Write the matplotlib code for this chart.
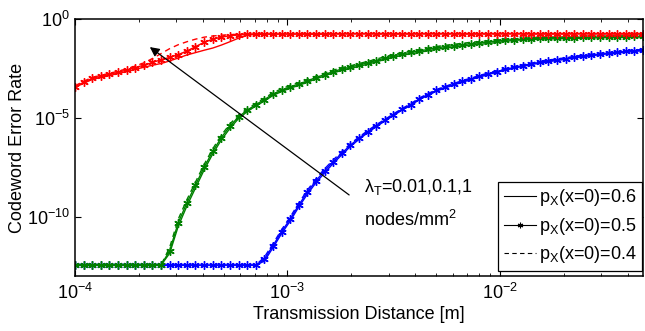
import matplotlib
matplotlib.use('Agg')
import matplotlib.pyplot as plt
from matplotlib.lines import Line2D
from matplotlib.ticker import LogLocator, NullLocator
import numpy as np

plt.rcParams['font.family'] = ['Liberation Sans', 'DejaVu Sans']
plt.rcParams['mathtext.fontset'] = 'custom'
plt.rcParams['mathtext.rm'] = 'Liberation Sans'
plt.rcParams['mathtext.it'] = 'Liberation Sans:italic'
plt.rcParams['font.size'] = 13

# transmission distance grid [m] (log spaced samples)
dist = np.logspace(-4, -1.327, 67)

# log10 of codeword error rate
# red curve
red_p06 = [-3.46, -3.25, -3.06, -2.96, -2.86, -2.76, -2.66, -2.55, -2.44, -2.34,
           -2.25, -2.12, -1.97, -1.82, -1.70, -1.58, -1.47, -1.32, -1.15, -0.97,
           -0.82, -0.77, -0.76, -0.76, -0.76, -0.76, -0.76, -0.76, -0.76, -0.76,
           -0.75, -0.75, -0.75, -0.75, -0.75, -0.75, -0.75, -0.75, -0.75, -0.75,
           -0.75, -0.75, -0.75, -0.75, -0.75, -0.75, -0.75, -0.75, -0.75, -0.75,
           -0.75, -0.75, -0.75, -0.75, -0.75, -0.75, -0.75, -0.75, -0.75, -0.75,
           -0.75, -0.75, -0.75, -0.75, -0.75, -0.75, -0.75]
red_p05 = [-3.42, -3.20, -3.00, -2.90, -2.80, -2.70, -2.58, -2.46, -2.33, -2.20,
           -2.06, -1.94, -1.80, -1.62, -1.40, -1.18, -1.02, -0.92, -0.85, -0.81,
           -0.78, -0.77, -0.76, -0.76, -0.76, -0.76, -0.76, -0.76, -0.76, -0.76,
           -0.75, -0.75, -0.75, -0.75, -0.75, -0.75, -0.75, -0.75, -0.75, -0.75,
           -0.75, -0.75, -0.75, -0.75, -0.75, -0.75, -0.75, -0.75, -0.75, -0.75,
           -0.75, -0.75, -0.75, -0.75, -0.75, -0.75, -0.75, -0.75, -0.75, -0.75,
           -0.75, -0.75, -0.75, -0.75, -0.75, -0.75, -0.75]
red_p04 = [-3.38, -3.15, -2.95, -2.85, -2.75, -2.64, -2.52, -2.38, -2.22, -2.00,
           -1.75, -1.50, -1.30, -1.15, -1.02, -0.92, -0.86, -0.82, -0.79, -0.77,
           -0.76, -0.76, -0.76, -0.76, -0.76, -0.76, -0.76, -0.76, -0.76, -0.76,
           -0.75, -0.75, -0.75, -0.75, -0.75, -0.75, -0.75, -0.75, -0.75, -0.75,
           -0.75, -0.75, -0.75, -0.75, -0.75, -0.75, -0.75, -0.75, -0.75, -0.75,
           -0.75, -0.75, -0.75, -0.75, -0.75, -0.75, -0.75, -0.75, -0.75, -0.75,
           -0.75, -0.75, -0.75, -0.75, -0.75, -0.75, -0.75]

# green curve
green_p06 = [-12.45, -12.45, -12.45, -12.45, -12.45, -12.45, -12.45, -12.45, -12.45, -12.45,
             -12.45, -11.85, -10.48, -9.46, -8.55, -7.64, -6.83, -6.12, -5.53, -5.04,
             -4.69, -4.40, -4.15, -3.87, -3.67, -3.50, -3.36, -3.20, -3.03, -2.88,
             -2.73, -2.60, -2.51, -2.39, -2.29, -2.17, -2.05, -1.94, -1.84, -1.76,
             -1.69, -1.61, -1.53, -1.47, -1.42, -1.37, -1.32, -1.28, -1.24, -1.19,
             -1.13, -1.08, -1.06, -1.04, -1.02, -1.01, -1.00, -0.99, -0.98, -0.97,
             -0.96, -0.95, -0.94, -0.94, -0.93, -0.92, -0.91]
green_p05 = [-12.45, -12.45, -12.45, -12.45, -12.45, -12.45, -12.45, -12.45, -12.45, -12.45,
             -12.45, -11.72, -10.30, -9.30, -8.40, -7.50, -6.70, -6.00, -5.42, -4.95,
             -4.62, -4.33, -4.08, -3.80, -3.60, -3.43, -3.29, -3.13, -2.96, -2.81,
             -2.66, -2.53, -2.44, -2.32, -2.22, -2.10, -1.98, -1.87, -1.77, -1.69,
             -1.62, -1.54, -1.46, -1.40, -1.35, -1.30, -1.25, -1.21, -1.17, -1.12,
             -1.07, -1.04, -1.02, -1.00, -0.98, -0.97, -0.96, -0.95, -0.94, -0.93,
             -0.92, -0.91, -0.90, -0.90, -0.89, -0.88, -0.88]
green_p04 = [-12.45, -12.45, -12.45, -12.45, -12.45, -12.45, -12.45, -12.45, -12.45, -12.45,
             -12.45, -11.55, -10.12, -9.14, -8.25, -7.36, -6.57, -5.88, -5.31, -4.86,
             -4.55, -4.27, -4.01, -3.73, -3.53, -3.36, -3.22, -3.06, -2.89, -2.74,
             -2.59, -2.46, -2.37, -2.25, -2.15, -2.03, -1.91, -1.80, -1.70, -1.62,
             -1.55, -1.47, -1.39, -1.33, -1.28, -1.23, -1.18, -1.14, -1.10, -1.05,
             -1.01, -1.00, -0.98, -0.96, -0.94, -0.93, -0.92, -0.91, -0.90, -0.89,
             -0.88, -0.87, -0.86, -0.86, -0.85, -0.85, -0.85]

# blue curve
blue_p06 = [-12.45, -12.45, -12.45, -12.45, -12.45, -12.45, -12.45, -12.45, -12.45, -12.45,
            -12.45, -12.45, -12.45, -12.45, -12.45, -12.45, -12.45, -12.45, -12.45, -12.45,
            -12.45, -12.45, -12.25, -11.57, -10.86, -10.22, -9.51, -8.86, -8.28, -7.78,
            -7.31, -6.87, -6.45, -6.09, -5.75, -5.45, -5.16, -4.88, -4.61, -4.37,
            -4.08, -3.86, -3.65, -3.49, -3.34, -3.20, -3.07, -2.94, -2.81, -2.70,
            -2.59, -2.49, -2.40, -2.31, -2.23, -2.16, -2.10, -2.04, -1.97, -1.91,
            -1.86, -1.81, -1.76, -1.72, -1.68, -1.64, -1.61]
blue_p05 = [-12.45, -12.45, -12.45, -12.45, -12.45, -12.45, -12.45, -12.45, -12.45, -12.45,
            -12.45, -12.45, -12.45, -12.45, -12.45, -12.45, -12.45, -12.45, -12.45, -12.45,
            -12.45, -12.45, -12.15, -11.47, -10.76, -10.12, -9.41, -8.76, -8.18, -7.68,
            -7.22, -6.79, -6.38, -6.03, -5.70, -5.40, -5.12, -4.84, -4.57, -4.33,
            -4.04, -3.82, -3.61, -3.45, -3.30, -3.16, -3.03, -2.90, -2.77, -2.66,
            -2.55, -2.45, -2.36, -2.27, -2.19, -2.12, -2.06, -2.00, -1.93, -1.87,
            -1.82, -1.77, -1.72, -1.68, -1.64, -1.60, -1.57]
blue_p04 = [-12.45, -12.45, -12.45, -12.45, -12.45, -12.45, -12.45, -12.45, -12.45, -12.45,
            -12.45, -12.45, -12.45, -12.45, -12.45, -12.45, -12.45, -12.45, -12.45, -12.45,
            -12.45, -12.45, -12.05, -11.37, -10.66, -10.02, -9.31, -8.66, -8.08, -7.58,
            -7.13, -6.71, -6.31, -5.97, -5.65, -5.35, -5.08, -4.80, -4.53, -4.29,
            -4.00, -3.78, -3.57, -3.41, -3.26, -3.12, -2.99, -2.86, -2.73, -2.62,
            -2.51, -2.41, -2.32, -2.23, -2.15, -2.08, -2.02, -1.96, -1.89, -1.83,
            -1.78, -1.73, -1.69, -1.65, -1.61, -1.57, -1.54]

legend_labels = [r'p$_\mathrm{X}$(x=0)=0.6', r'p$_\mathrm{X}$(x=0)=0.5', r'p$_\mathrm{X}$(x=0)=0.4']

fig = plt.figure(figsize=(6.45, 3.31), dpi=100)
ax = fig.add_axes([75/645, 55/331, 568/645, 257/331])

asterisk = (6, 2, 0)
curves = [
    ('#0000ff', blue_p06, blue_p05, blue_p04),
    ('#008000', green_p06, green_p05, green_p04),
    ('#ff0000', red_p06, red_p05, red_p04),
]
for col, y6, y5, y4 in curves:
    ax.plot(dist, 10**np.array(y6), '-', color=col, lw=1.0)
    ax.plot(dist, 10**np.array(y5), '-', color=col, lw=1.0, marker=asterisk,
            ms=6, mew=1.0)
    ax.plot(dist, 10**np.array(y4), '--', color=col, lw=1.0, dashes=(4, 3))

ax.set_xscale('log')
ax.set_yscale('log')
ax.set_xlim(1e-4, 10**-1.327)
ax.set_ylim(1e-13, 1)
ax.set_yticks([1e-10, 1e-5, 1])
ax.yaxis.set_minor_locator(NullLocator())
ax.xaxis.set_minor_locator(LogLocator(base=10, subs=np.arange(2, 10)))

ax.tick_params(which='both', direction='in', top=True, right=True, labelsize=13)
ax.tick_params(which='major', length=4, width=0.8)
ax.tick_params(which='minor', length=2.5, width=0.6)
ax.tick_params(axis='x', pad=5)
for s in ax.spines.values():
    s.set_linewidth(1.1)

ax.set_xlabel('Transmission Distance [m]', fontsize=13, labelpad=2)
ax.set_ylabel('Codeword Error Rate', fontsize=13, labelpad=1)

# arrow and annotation
ax.annotate('', xy=(2.25e-4, 0.038), xytext=(1.95e-3, 1.26e-9),
            arrowprops=dict(arrowstyle='-|>', color='k', lw=0.9,
                            mutation_scale=14, shrinkA=0, shrinkB=0))
ax.text(2.3e-3, 10**-8.5, r'λ$_\mathrm{T}$=0.01,0.1,1', fontsize=13, va='center')
ax.text(2.3e-3, 10**-10.15, r'nodes/mm$^2$', fontsize=13, va='center')

handles = [Line2D([], [], color='k', lw=0.8),
           Line2D([], [], color='k', lw=0.8, marker=asterisk, ms=4, mew=0.8),
           Line2D([], [], color='k', lw=0.8, ls='--', dashes=(4, 3))]
leg = ax.legend(handles, legend_labels, loc='lower right', bbox_to_anchor=(0.998, 0.02),
                fancybox=False, framealpha=1, edgecolor='k', fontsize=13,
                handlelength=1.8, handletextpad=0.15, borderpad=0.3,
                labelspacing=0.42, borderaxespad=0)
leg.get_frame().set_linewidth(0.9)

fig.savefig('out.png', dpi=100)
